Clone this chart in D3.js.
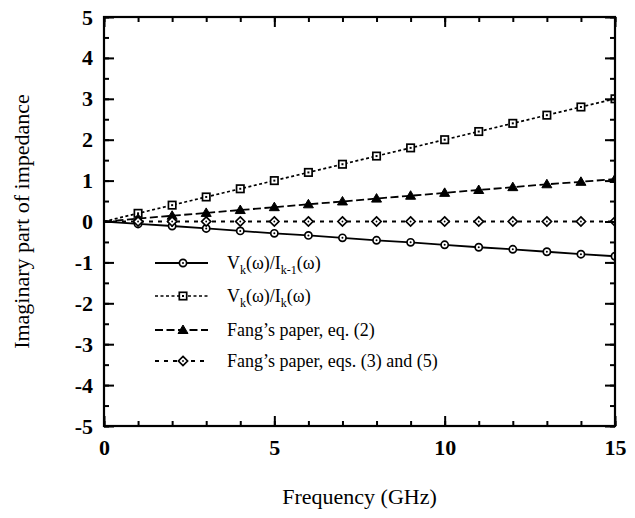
<!DOCTYPE html>
<html><head><meta charset="utf-8">
<script src="https://cdn.jsdelivr.net/npm/d3@7"></script>
<style>body{margin:0;background:#fff}svg{display:block}text{font-family:"Liberation Serif","Times New Roman",serif;fill:#000}</style>
</head><body><svg id="c" width="635" height="518"></svg>
<script>
const freq = [0,1,2,3,4,5,6,7,8,9,10,11,12,13,14,15];
const vkIk1 = [0,-0.06,-0.11,-0.17,-0.23,-0.29,-0.34,-0.40,-0.46,-0.51,-0.57,-0.63,-0.68,-0.74,-0.80,-0.85];
const vkIk = [0,0.2,0.4,0.6,0.8,1.0,1.2,1.4,1.6,1.8,2.0,2.2,2.4,2.6,2.8,3.0];
const fangEq2 = [0,0.07,0.14,0.21,0.28,0.35,0.42,0.49,0.56,0.63,0.7,0.77,0.84,0.91,0.97,1.04];
const fangEq35 = [0,0,0,0,0,0,0,0,0,0,0,0,0,0,0,0];
const xTicks = [0,5,10,15];
const yTicks = [-5,-4,-3,-2,-1,0,1,2,3,4,5];
const xLabel = "Frequency (GHz)";
const yLabel = "Imaginary part of impedance";

const svg = d3.select("#c");
const L=104,R=615,T=17,B=426;
const x = d3.scaleLinear().domain([0,15]).range([L,R]);
const y = d3.scaleLinear().domain([-5,5]).range([B,T]);

const series = [
  {values:vkIk1, dash:null, w:1.8, marker:"circle"},
  {values:vkIk, dash:"3,2.5", w:1.7, marker:"square"},
  {values:fangEq2, dash:"8,3.5", w:1.8, marker:"triangle"},
  {values:fangEq35, dash:"4,5", w:1.8, marker:"diamond"}
];

svg.append("clipPath").attr("id","cp").append("rect").attr("x",L).attr("y",T).attr("width",R-L).attr("height",B-T);

function drawMarker(g, type, cx, cy){
  if(type==="circle"){
    g.append("circle").attr("cx",cx).attr("cy",cy).attr("r",3.6).attr("fill","#fff").attr("stroke","#000").attr("stroke-width",1.7);
    g.append("circle").attr("cx",cx).attr("cy",cy).attr("r",1).attr("fill","#000");
  } else if(type==="square"){
    g.append("rect").attr("x",cx-3.7).attr("y",cy-3.7).attr("width",7.4).attr("height",7.4).attr("fill","#fff").attr("stroke","#000").attr("stroke-width",1.7);
    g.append("rect").attr("x",cx-1).attr("y",cy-1).attr("width",2).attr("height",2).attr("fill","#000");
  } else if(type==="triangle"){
    g.append("path").attr("d",`M${cx},${cy-5}L${cx+5},${cy+3.5}L${cx-5},${cy+3.5}Z`).attr("fill","#000").attr("stroke","#000").attr("stroke-width",1);
  } else {
    g.append("path").attr("d",`M${cx},${cy-4.6}L${cx+4.6},${cy}L${cx},${cy+4.6}L${cx-4.6},${cy}Z`).attr("fill","#fff").attr("stroke","#000").attr("stroke-width",1.7);
    g.append("circle").attr("cx",cx).attr("cy",cy).attr("r",0.9).attr("fill","#000");
  }
}

const plot = svg.append("g").attr("clip-path","url(#cp)");
const line = d3.line().x((d,i)=>x(freq[i])).y(d=>y(d));
series.forEach(s=>{
  plot.append("path").datum(s.values).attr("d",line).attr("fill","none").attr("stroke","#000")
    .attr("stroke-width",s.w).attr("stroke-dasharray",s.dash);
});
series.forEach(s=>{
  const g = plot.append("g");
  s.values.forEach((v,i)=>{ if(freq[i]>0) drawMarker(g,s.marker,x(freq[i]),y(v)); });
});

svg.append("rect").attr("x",L).attr("y",T).attr("width",R-L).attr("height",B-T).attr("fill","none").attr("stroke","#000").attr("stroke-width",2.2);

const fmt = d => String(d);
const minorX = d3.range(0,15.01,1), minorY = d3.range(-5,5.01,0.5);
const axes = [];
axes.push(svg.append("g").attr("transform",`translate(0,${B})`).call(d3.axisBottom(x).tickValues(minorX).tickSize(-5).tickFormat("")));
axes.push(svg.append("g").attr("transform",`translate(0,${B})`).call(d3.axisBottom(x).tickValues(xTicks).tickSize(-10).tickPadding(13).tickFormat(fmt)));
axes.push(svg.append("g").attr("transform",`translate(0,${T})`).call(d3.axisTop(x).tickValues(minorX).tickSize(-5).tickFormat("")));
axes.push(svg.append("g").attr("transform",`translate(0,${T})`).call(d3.axisTop(x).tickValues(xTicks).tickSize(-10).tickFormat("")));
axes.push(svg.append("g").attr("transform",`translate(${L},0)`).call(d3.axisLeft(y).tickValues(minorY).tickSize(-5).tickFormat("")));
axes.push(svg.append("g").attr("transform",`translate(${L},0)`).call(d3.axisLeft(y).tickValues(yTicks).tickSize(-10).tickPadding(11).tickFormat(fmt)));
axes.push(svg.append("g").attr("transform",`translate(${R},0)`).call(d3.axisRight(y).tickValues(minorY).tickSize(-5).tickFormat("")));
axes.push(svg.append("g").attr("transform",`translate(${R},0)`).call(d3.axisRight(y).tickValues(yTicks).tickSize(-10).tickFormat("")));
axes.forEach(a=>{
  a.select(".domain").remove();
  a.selectAll("line").attr("stroke","#000").attr("stroke-width",2);
  a.selectAll("text").style("font-family",'"Liberation Serif",serif').style("font-size","22px").style("font-weight","bold").attr("fill","#000");
});

svg.append("text").attr("x",(L+R)/2).attr("y",504).attr("text-anchor","middle").style("font-size","22px").text(xLabel);
svg.append("text").attr("transform",`translate(29,${(T+B)/2}) rotate(-90)`).attr("text-anchor","middle").style("font-size","22px").text(yLabel);

const legY = [263,296,330,361];
const legLabels = [
  [["V",0],["k",1],["(ω)/I",0],["k-1",1],["(ω)",0]],
  [["V",0],["k",1],["(ω)/I",0],["k",1],["(ω)",0]],
  [["Fang’s paper, eq. (2)",0]],
  [["Fang’s paper, eqs. (3) and (5)",0]]
];
series.forEach((s,i)=>{
  const g = svg.append("g");
  g.append("line").attr("x1",155).attr("x2",208).attr("y1",legY[i]).attr("y2",legY[i]).attr("stroke","#000").attr("stroke-width",s.w).attr("stroke-dasharray",s.dash);
  drawMarker(g,s.marker,183,legY[i]);
  const t = g.append("text").attr("x",227).attr("y",legY[i]+6).style("font-size","18px");
  let prevSub=0;
  legLabels[i].forEach(p=>{
    const ts = t.append("tspan").text(p[0]);
    if(p[1]){ ts.attr("dy", prevSub?0:5).style("font-size","12px"); }
    else { ts.attr("dy", prevSub?-5:0); }
    prevSub=p[1];
  });
});
</script></body></html>
